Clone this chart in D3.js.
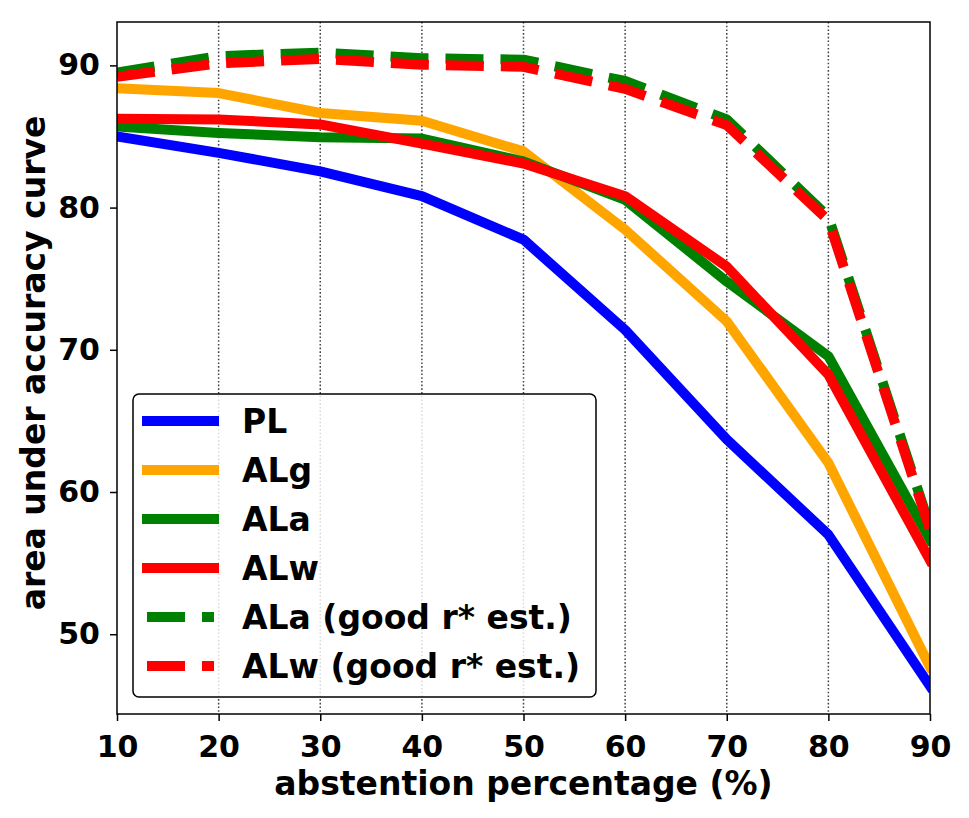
<!DOCTYPE html>
<html>
<head>
<meta charset="utf-8">
<script src="https://cdn.jsdelivr.net/npm/d3@7"></script>
<style>
  body { margin: 0; background: #fff; }
  text { font-family: "DejaVu Sans", sans-serif; font-weight: bold; fill: #000; }
</style>
</head>
<body>
<div id="chart-container"></div>
<script>
const abstention = [10, 20, 30, 40, 50, 60, 70, 80, 90];
const PL = [85.0, 83.85, 82.55, 80.8, 77.75, 71.4, 63.7, 57.0, 46.35];
const ALg = [88.4, 88.05, 86.65, 86.1, 83.95, 78.45, 72.0, 62.05, 47.7];
const ALa = [85.7, 85.25, 84.95, 84.85, 83.25, 80.55, 74.8, 69.55, 56.65];
const ALw = [86.25, 86.2, 85.85, 84.5, 83.1, 80.8, 75.85, 68.25, 55.2];
const ALaGood = [89.5, 90.65, 90.9, 90.5, 90.4, 88.9, 86.2, 79.35, 57.55];
const ALwGood = [89.2, 90.15, 90.45, 90.05, 89.9, 88.35, 85.8, 79.1, 57.35];
const xTicks = [10, 20, 30, 40, 50, 60, 70, 80, 90];
const yTicks = [50, 60, 70, 80, 90];

const series = [
  { name: "PL", values: PL, color: "#0000ff", dashed: false },
  { name: "ALg", values: ALg, color: "#ffa500", dashed: false },
  { name: "ALa", values: ALa, color: "#008000", dashed: false },
  { name: "ALw", values: ALw, color: "#ff0000", dashed: false },
  { name: "ALa (good r* est.)", values: ALaGood, color: "#008000", dashed: true },
  { name: "ALw (good r* est.)", values: ALwGood, color: "#ff0000", dashed: true }
];

const W = 969, H = 818;
const margin = { top: 22, right: 39, bottom: 104, left: 117 };
const width = W - margin.left - margin.right;
const height = H - margin.top - margin.bottom;

const svg = d3.select("#chart-container")
  .append("svg")
  .attr("width", W)
  .attr("height", H);

const g = svg.append("g")
  .attr("transform", `translate(${margin.left},${margin.top})`);

const x = d3.scaleLinear().domain([10, 90]).range([0, width]);
const y = d3.scaleLinear().domain([44.39, 93.05]).range([height, 0]);

svg.append("defs").append("clipPath").attr("id", "plot-clip")
  .append("rect").attr("width", width).attr("height", height);

// dotted vertical grid
g.selectAll(".grid")
  .data(xTicks.slice(1, -1))
  .enter().append("line")
  .attr("x1", d => x(d)).attr("x2", d => x(d))
  .attr("y1", 0).attr("y2", height)
  .attr("stroke", "#444")
  .attr("stroke-width", 1.5)
  .attr("stroke-dasharray", "1.6,2.1");

const line = d3.line()
  .x((d, i) => x(abstention[i]))
  .y(d => y(d));

const plot = g.append("g").attr("clip-path", "url(#plot-clip)");
plot.selectAll(".series")
  .data(series)
  .enter().append("path")
  .attr("fill", "none")
  .attr("stroke", d => d.color)
  .attr("stroke-width", 10)
  .attr("stroke-linejoin", "round")
  .attr("stroke-linecap", d => d.dashed ? "butt" : "square")
  .attr("stroke-dasharray", d => d.dashed ? "38,17" : null)
  .attr("d", d => line(d.values));

// axes
const xAxis = g.append("g")
  .attr("transform", `translate(0,${height})`)
  .call(d3.axisBottom(x).tickValues(xTicks).tickSize(7).tickPadding(10));
const yAxis = g.append("g")
  .call(d3.axisLeft(y).tickValues(yTicks).tickSize(7).tickPadding(10));

[xAxis, yAxis].forEach(a => {
  a.selectAll("text").style("font-size", "30px").style("font-family", "DejaVu Sans").style("font-weight", "bold");
  a.selectAll("line").attr("stroke-width", 1.5);
  a.select(".domain").remove();
});
xAxis.selectAll("text").attr("dy", "0.85em");

// frame
g.append("rect")
  .attr("width", width).attr("height", height)
  .attr("fill", "none").attr("stroke", "#000").attr("stroke-width", 1.5);

// axis labels
g.append("text")
  .attr("text-anchor", "middle")
  .attr("x", width / 2)
  .attr("y", height + 81)
  .style("font-size", "33px")
  .text("abstention percentage (%)");

g.append("text")
  .attr("text-anchor", "middle")
  .attr("transform", "rotate(-90)")
  .attr("x", -height / 2 + 5)
  .attr("y", -72)
  .style("font-size", "33px")
  .text("area under accuracy curve");

// legend
const lg = svg.append("g").attr("transform", "translate(133,394)");
lg.append("rect")
  .attr("width", 463).attr("height", 303)
  .attr("rx", 6).attr("ry", 6)
  .attr("fill", "#fff").attr("fill-opacity", 0.8)
  .attr("stroke", "#000").attr("stroke-width", 1.5);

const item = lg.selectAll(".item")
  .data(series)
  .enter().append("g")
  .attr("transform", (d, i) => `translate(0,${27 + i * 49})`);

item.append("line")
  .attr("x1", 14).attr("x2", 81)
  .attr("stroke", d => d.color)
  .attr("stroke-width", 10)
  .attr("stroke-linecap", d => d.dashed ? "butt" : "square")
  .attr("stroke-dasharray", d => d.dashed ? "38,17" : null);

item.append("text")
  .attr("x", 109)
  .attr("dy", "0.36em")
  .style("font-size", "33px")
  .text(d => d.name);
</script>
</body>
</html>
